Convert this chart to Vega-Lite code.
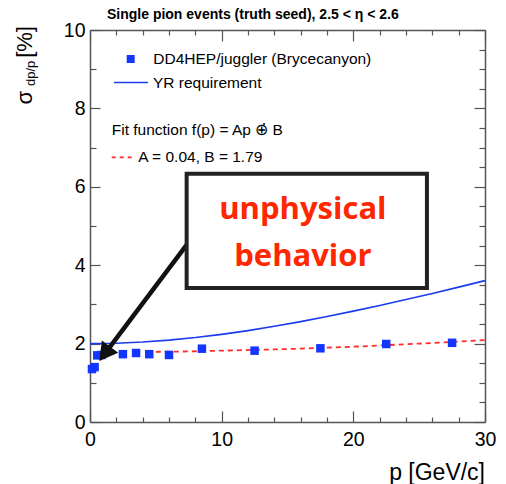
{
  "$schema": "https://vega.github.io/schema/vega-lite/v6.json",
  "width": 395,
  "height": 392,
  "autosize": "none",
  "padding": {"left": 90, "top": 30, "right": 21, "bottom": 62},
  "background": "white",
  "config": {
    "view": {"stroke": null},
    "font": "Liberation Sans",
    "axis": {
      "grid": false,
      "domainColor": "#555555",
      "domainWidth": 1.5,
      "tickColor": "#555555",
      "tickWidth": 1.2,
      "labelColor": "black",
      "labelFont": "Liberation Sans",
      "labelFontSize": 19.5
    }
  },
  "datasets": {
    "points": [
      {"p": 0.15, "s": 1.35}, {"p": 0.35, "s": 1.40}, {"p": 0.55, "s": 1.70}, {"p": 0.88, "s": 1.71},
      {"p": 2.5, "s": 1.73}, {"p": 3.5, "s": 1.76}, {"p": 4.5, "s": 1.73}, {"p": 6.0, "s": 1.71},
      {"p": 8.5, "s": 1.87}, {"p": 12.5, "s": 1.82}, {"p": 17.5, "s": 1.88}, {"p": 22.5, "s": 1.99},
      {"p": 27.5, "s": 2.02}
    ],
    "yr": [
      {"p": 0, "s": 2.0}, {"p": 2, "s": 2.01}, {"p": 4, "s": 2.04}, {"p": 6, "s": 2.088},
      {"p": 8, "s": 2.154}, {"p": 10, "s": 2.236}, {"p": 12, "s": 2.332}, {"p": 14, "s": 2.441},
      {"p": 16, "s": 2.561}, {"p": 18, "s": 2.691}, {"p": 20, "s": 2.828}, {"p": 22, "s": 2.973},
      {"p": 24, "s": 3.124}, {"p": 26, "s": 3.28}, {"p": 28, "s": 3.441}, {"p": 30, "s": 3.606}
    ],
    "fit": [
      {"p": 5, "s": 1.79}, {"p": 7.5, "s": 1.80}, {"p": 10, "s": 1.82}, {"p": 12.5, "s": 1.84},
      {"p": 15, "s": 1.86}, {"p": 17.5, "s": 1.89}, {"p": 20, "s": 1.92}, {"p": 22.5, "s": 1.96},
      {"p": 25, "s": 2.0}, {"p": 27.5, "s": 2.04}, {"p": 30, "s": 2.09}
    ]
  },
  "layer": [
    {
      "data": {"name": "yr"},
      "mark": {"type": "line", "color": "#1a3cf0", "strokeWidth": 1.6},
      "encoding": {
        "x": {"field": "p", "type": "quantitative",
              "scale": {"domain": [0, 30], "nice": false, "zero": false},
              "axis": {"orient": "top", "labels": false, "title": null, "values": [0,2,4,6,8,10,12,14,16,18,20,22,24,26,28,30],
                       "tickSize": {"condition": {"test": "datum.value % 10 === 0", "value": -11}, "value": -5}}},
        "y": {"field": "s", "type": "quantitative",
              "scale": {"domain": [0, 10], "nice": false, "zero": false},
              "axis": {"orient": "right", "labels": false, "title": null, "values": [0,0.5,1,1.5,2,2.5,3,3.5,4,4.5,5,5.5,6,6.5,7,7.5,8,8.5,9,9.5,10],
                       "tickSize": {"condition": {"test": "datum.value % 2 === 0", "value": -11}, "value": -6}}}
      }
    },
    {
      "data": {"name": "fit"},
      "mark": {"type": "line", "color": "#ff2a2a", "strokeWidth": 1.8, "strokeDash": [5, 4]},
      "encoding": {
        "x": {"field": "p", "type": "quantitative", "scale": {"domain": [0, 30], "nice": false, "zero": false}, "axis": null},
        "y": {"field": "s", "type": "quantitative", "scale": {"domain": [0, 10], "nice": false, "zero": false}, "axis": null}
      }
    },
    {
      "data": {"name": "points"},
      "mark": {"type": "point", "shape": "square", "filled": true, "size": 72, "color": "#1236ff", "opacity": 1},
      "encoding": {
        "x": {"field": "p", "type": "quantitative",
              "scale": {"domain": [0, 30], "nice": false, "zero": false},
              "axis": {"orient": "bottom", "title": null, "values": [0,2,4,6,8,10,12,14,16,18,20,22,24,26,28,30],
                       "format": "d",
                       "labelExpr": "datum.value % 10 === 0 ? datum.label : ''",
                       "labelPadding": 19, "labelFlush": false, "labelOverlap": false,
                       "tickSize": {"condition": {"test": "datum.value % 10 === 0", "value": -11}, "value": -5}}},
        "y": {"field": "s", "type": "quantitative",
              "scale": {"domain": [0, 10], "nice": false, "zero": false},
              "axis": {"orient": "left", "title": null, "values": [0,0.5,1,1.5,2,2.5,3,3.5,4,4.5,5,5.5,6,6.5,7,7.5,8,8.5,9,9.5,10],
                       "format": "d",
                       "labelExpr": "datum.value % 2 === 0 ? datum.label : ''",
                       "labelPadding": 15, "labelFlush": false, "labelOverlap": false,
                       "tickSize": {"condition": {"test": "datum.value % 2 === 0", "value": -10}, "value": -6}}}
      }
    },
    {
      "data": {"values": [{"x1": 7.34, "y1": 4.52, "x2": 1.116, "y2": 1.74}]},
      "mark": {"type": "rule", "color": "#111111", "strokeWidth": 4.5},
      "encoding": {
        "x": {"field": "x1", "type": "quantitative", "scale": {"domain": [0, 30], "nice": false, "zero": false}, "axis": null},
        "y": {"field": "y1", "type": "quantitative", "scale": {"domain": [0, 10], "nice": false, "zero": false}, "axis": null},
        "x2": {"field": "x2"},
        "y2": {"field": "y2"}
      }
    },
    {
      "data": {"values": [{"x": 1.116, "y": 1.74}]},
      "mark": {"type": "point", "shape": "triangle-up", "filled": true, "size": 420, "angle": 217, "color": "#111111", "opacity": 1},
      "encoding": {
        "x": {"field": "x", "type": "quantitative", "scale": {"domain": [0, 30], "nice": false, "zero": false}, "axis": null},
        "y": {"field": "y", "type": "quantitative", "scale": {"domain": [0, 10], "nice": false, "zero": false}, "axis": null}
      }
    },
    {
      "data": {"values": [{"x1": 7.34, "x2": 25.59, "y1": 6.33, "y2": 3.42}]},
      "mark": {"type": "rect", "fill": "white", "stroke": "#222222", "strokeWidth": 4},
      "encoding": {
        "x": {"field": "x1", "type": "quantitative", "scale": {"domain": [0, 30], "nice": false, "zero": false}, "axis": null},
        "x2": {"field": "x2"},
        "y": {"field": "y1", "type": "quantitative", "scale": {"domain": [0, 10], "nice": false, "zero": false}, "axis": null},
        "y2": {"field": "y2"}
      }
    },
    {
      "data": {"values": [{"x": 16.17, "y": 5.41, "t": "unphysical"}, {"x": 16.17, "y": 4.21, "t": "behavior"}]},
      "mark": {"type": "text", "font": "Open Sans", "fontWeight": "bold", "fontSize": 31, "color": "#ff2600", "align": "center", "baseline": "middle"},
      "encoding": {
        "x": {"field": "x", "type": "quantitative", "scale": {"domain": [0, 30], "nice": false, "zero": false}, "axis": null},
        "y": {"field": "y", "type": "quantitative", "scale": {"domain": [0, 10], "nice": false, "zero": false}, "axis": null},
        "text": {"field": "t"}
      }
    },
    {
      "data": {"values": [{"x": 3.09, "y": 9.26}]},
      "mark": {"type": "point", "shape": "square", "filled": true, "size": 64, "color": "#1236ff", "opacity": 1},
      "encoding": {
        "x": {"field": "x", "type": "quantitative", "scale": {"domain": [0, 30], "nice": false, "zero": false}, "axis": null},
        "y": {"field": "y", "type": "quantitative", "scale": {"domain": [0, 10], "nice": false, "zero": false}, "axis": null}
      }
    },
    {
      "data": {"values": [{"x1": 1.82, "x2": 4.4, "y": 8.66}]},
      "mark": {"type": "rule", "color": "#1a3cf0", "strokeWidth": 1.6},
      "encoding": {
        "x": {"field": "x1", "type": "quantitative", "scale": {"domain": [0, 30], "nice": false, "zero": false}, "axis": null},
        "x2": {"field": "x2"},
        "y": {"field": "y", "type": "quantitative", "scale": {"domain": [0, 10], "nice": false, "zero": false}, "axis": null}
      }
    },
    {
      "data": {"values": [{"x1": 1.65, "x2": 3.42, "y": 6.75}]},
      "mark": {"type": "rule", "color": "#ff2a2a", "strokeWidth": 1.8, "strokeDash": [4, 4]},
      "encoding": {
        "x": {"field": "x1", "type": "quantitative", "scale": {"domain": [0, 30], "nice": false, "zero": false}, "axis": null},
        "x2": {"field": "x2"},
        "y": {"field": "y", "type": "quantitative", "scale": {"domain": [0, 10], "nice": false, "zero": false}, "axis": null}
      }
    },
    {
      "data": {"values": [
        {"x": 4.81, "y": 9.27, "t": "DD4HEP/juggler (Brycecanyon)"},
        {"x": 4.78, "y": 8.65, "t": "YR requirement"},
        {"x": 1.65, "y": 7.45, "t": "Fit function f(p) = Ap ⊕̇ B"},
        {"x": 3.67, "y": 6.76, "t": "A = 0.04, B = 1.79"}
      ]},
      "mark": {"type": "text", "font": "Liberation Sans", "fontSize": 15.5, "color": "black", "align": "left", "baseline": "middle"},
      "encoding": {
        "x": {"field": "x", "type": "quantitative", "scale": {"domain": [0, 30], "nice": false, "zero": false}, "axis": null},
        "y": {"field": "y", "type": "quantitative", "scale": {"domain": [0, 10], "nice": false, "zero": false}, "axis": null},
        "text": {"field": "t"}
      }
    },
    {
      "data": {"values": [{"x": 1.29, "y": 10.38, "t": "Single pion events (truth seed),  2.5 < η < 2.6"}]},
      "mark": {"type": "text", "font": "Liberation Sans", "fontSize": 14, "fontWeight": "bold", "color": "black", "align": "left", "baseline": "middle"},
      "encoding": {
        "x": {"field": "x", "type": "quantitative", "scale": {"domain": [0, 30], "nice": false, "zero": false}, "axis": null},
        "y": {"field": "y", "type": "quantitative", "scale": {"domain": [0, 10], "nice": false, "zero": false}, "axis": null},
        "text": {"field": "t"}
      }
    },
    {
      "data": {"values": [{"x": -4.95, "y": 8.1, "t": "σ"}, {"x": -4.94, "y": 9.29, "t": "[%]"}]},
      "mark": {"type": "text", "font": "Liberation Sans", "fontSize": 22, "color": "black", "align": "left", "baseline": "middle", "angle": 270},
      "encoding": {
        "x": {"field": "x", "type": "quantitative", "scale": {"domain": [0, 30], "nice": false, "zero": false}, "axis": null},
        "y": {"field": "y", "type": "quantitative", "scale": {"domain": [0, 10], "nice": false, "zero": false}, "axis": null},
        "text": {"field": "t"}
      }
    },
    {
      "data": {"values": [{"x": -4.45, "y": 8.57, "t": "dp/p"}]},
      "mark": {"type": "text", "font": "Liberation Sans", "fontSize": 13, "color": "black", "align": "left", "baseline": "middle", "angle": 270},
      "encoding": {
        "x": {"field": "x", "type": "quantitative", "scale": {"domain": [0, 30], "nice": false, "zero": false}, "axis": null},
        "y": {"field": "y", "type": "quantitative", "scale": {"domain": [0, 10], "nice": false, "zero": false}, "axis": null},
        "text": {"field": "t"}
      }
    },
    {
      "data": {"values": [{"x": 30, "y": -1.3, "t": "p [GeV/c]"}]},
      "mark": {"type": "text", "font": "Liberation Sans", "fontSize": 23, "color": "black", "align": "right", "baseline": "middle"},
      "encoding": {
        "x": {"field": "x", "type": "quantitative", "scale": {"domain": [0, 30], "nice": false, "zero": false}, "axis": null},
        "y": {"field": "y", "type": "quantitative", "scale": {"domain": [0, 10], "nice": false, "zero": false}, "axis": null},
        "text": {"field": "t"}
      }
    }
  ],
  "resolve": {"axis": {"x": "independent", "y": "independent"}}
}
